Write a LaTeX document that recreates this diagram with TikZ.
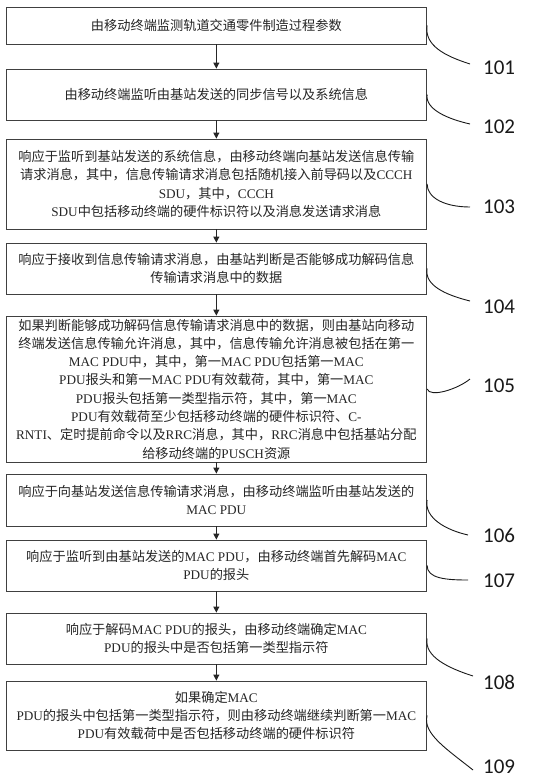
\documentclass[tikz,border=0pt]{standalone}
\usepackage{fontspec}
\setmainfont{Noto Sans CJK SC}
\newfontfamily\tm{Liberation Serif}
\newfontfamily\lab{Carlito}
\usetikzlibrary{arrows.meta,calc}
\begin{document}
\begin{tikzpicture}[x=1pt,y=-1pt,
  stepbox/.style={draw=black!75, line width=0.8pt, rectangle, minimum width=420.7pt, inner sep=0pt,
    align=center, font=\fontsize{13.2}{18.3}\selectfont, text=black!85},
  flow/.style={draw=black!85, line width=0.9pt, -{Triangle[length=6pt,width=6pt]}},
  lead/.style={draw=black!90, line width=0.9pt},
  numlab/.style={anchor=west, inner sep=0pt, font=\lab\fontsize{21}{21}\selectfont, text=black!90}]
\useasboundingbox[fill=white] (0,0) rectangle (560,780);

\node[stepbox, minimum height=37pt] (b1) at (216.35,25.5) {由移动终端监测轨道交通零件制造过程参数};
\node[stepbox, minimum height=51pt] (b2) at (216.35,94.5) {由移动终端监听由基站发送的同步信号以及系统信息};
\node[stepbox, minimum height=90pt] (b3) at (216.35,184) {响应于监听到基站发送的系统信息，由移动终端向基站发送信息传输\\请求消息，其中，信息传输请求消息包括随机接入前导码以及{\tm CCCH}\\{\tm SDU}，其中，{\tm CCCH}\\{\tm SDU}中包括移动终端的硬件标识符以及消息发送请求消息};
\node[stepbox, minimum height=51pt] (b4) at (216.35,268.5) {响应于接收到信息传输请求消息，由基站判断是否能够成功解码信息\\传输请求消息中的数据};
\node[stepbox, minimum height=146pt] (b5) at (216.35,389) {如果判断能够成功解码信息传输请求消息中的数据，则由基站向移动\\终端发送信息传输允许消息，其中，信息传输允许消息被包括在第一\\{\tm MAC PDU}中，其中，第一{\tm MAC PDU}包括第一{\tm MAC}\\{\tm PDU}报头和第一{\tm MAC PDU}有效载荷，其中，第一{\tm MAC}\\{\tm PDU}报头包括第一类型指示符，其中，第一{\tm MAC}\\{\tm PDU}有效载荷至少包括移动终端的硬件标识符、{\tm C-}\\{\tm RNTI}、定时提前命令以及{\tm RRC}消息，其中，{\tm RRC}消息中包括基站分配\\给移动终端的{\tm PUSCH}资源};
\node[stepbox, minimum height=52pt] (b6) at (216.35,500) {响应于向基站发送信息传输请求消息，由移动终端监听由基站发送的\\{\tm MAC PDU}};
\node[stepbox, minimum height=51pt] (b7) at (216.35,565.5) {响应于监听到由基站发送的{\tm MAC PDU}，由移动终端首先解码{\tm MAC}\\{\tm PDU}的报头};
\node[stepbox, minimum height=51pt] (b8) at (216.35,638.5) {响应于解码{\tm MAC PDU}的报头，由移动终端确定{\tm MAC}\\{\tm PDU}的报头中是否包括第一类型指示符};
\node[stepbox, minimum height=69pt] (b9) at (216.35,715.5) {如果确定{\tm MAC}\\{\tm PDU}的报头中包括第一类型指示符，则由移动终端继续判断第一{\tm MAC}\\{\tm PDU}有效载荷中是否包括移动终端的硬件标识符};

\draw[flow] (b1) -- (b2);
\draw[flow] (b2) -- (b3);
\draw[flow] (b3) -- (b4);
\draw[flow] (b4) -- (b5);
\draw[flow] (b5) -- (b6);
\draw[flow] (b6) -- (b7);
\draw[flow] (b7) -- (b8);
\draw[flow] (b8) -- (b9);

\node[numlab] (n1) at (483,68) {101};
\node[numlab] (n2) at (483,127) {102};
\node[numlab] (n3) at (483,207) {103};
\node[numlab] (n4) at (483,307) {104};
\node[numlab] (n5) at (483,386) {105};
\node[numlab] (n6) at (483,535) {106};
\node[numlab] (n7) at (483,581) {107};
\node[numlab] (n8) at (483,682) {108};
\node[numlab] (n9) at (483,767) {109};

\coordinate (e1) at (470,64);
\coordinate (e2) at (470,124);
\coordinate (e3) at (470,207);
\coordinate (e4) at (470,301);
\coordinate (e5) at (470,379);
\coordinate (e6) at (468,535);
\coordinate (e7) at (468,580);
\coordinate (e8) at (473,676);
\coordinate (e9) at (473,770);

\draw[lead] (b1.east) .. controls +(-3,20) and +(-25,-8) .. (e1);
\draw[lead] (b2.east) .. controls +(-2,15) and +(-22,-5) .. (e2);
\draw[lead] (b3.east) .. controls +(0,14) and +(-25,0) .. (e3);
\draw[lead] (b4.east) .. controls +(-3,17) and +(-24,-6) .. (e4);
\draw[lead] (b5.east) .. controls +(3,9) and +(-12,10) .. (e5);
\draw[lead] (b6.east) .. controls +(-3,18) and +(-22,-5) .. (e6);
\draw[lead] (b7.east) .. controls +(0,13) and +(-22,0) .. (e7);
\draw[lead] (b8.east) .. controls +(-3,18) and +(-25,-8) .. (e8);
\draw[lead] (b9.east) .. controls +(-5,18) and +(-25,-20) .. (e9);
\end{tikzpicture}
\end{document}
